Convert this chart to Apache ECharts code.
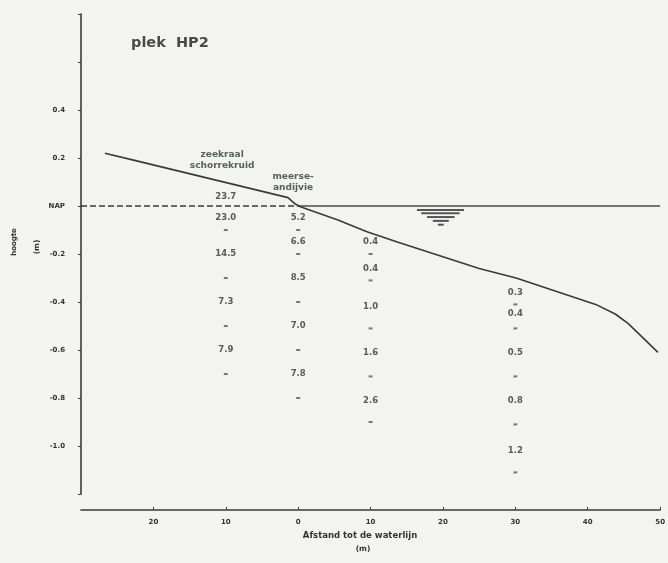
<!DOCTYPE html>
<html>
<head>
<meta charset="utf-8">
<script src="https://cdn.jsdelivr.net/npm/echarts@6/dist/echarts.min.js"></script>
<style>
  html, body { margin: 0; padding: 0; background: #f3f3ef; }
  #chart { width: 668px; height: 563px; }
</style>
</head>
<body>
<div id="chart"></div>
<script>
// Ground profile along the transect: [distance to waterline (m), height (m, NAP)]
const profile = [
  [-26.7, 0.22], [-22.6, 0.19], [-1.4, 0.035], [-0.4, 0.008], [0.4, -0.004],
  [5.5, -0.058], [8.9, -0.10], [9.6, -0.108], [13.7, -0.15], [25.0, -0.26],
  [30.1, -0.30], [41.1, -0.41], [43.8, -0.45], [45.6, -0.49], [49.7, -0.61]
];

// NAP reference over land (dashed) and water level (solid)
const napLand = [[-30, 0], [0, 0]];
const waterLevel = [[0, 0], [50, 0]];

// Water-level symbol: horizontal strokes [from x, to x, height]
const waterSymbol = [
  [16.4, 22.9, -0.017], [17.0, 22.3, -0.030], [17.8, 21.6, -0.046],
  [18.6, 20.8, -0.062], [19.3, 20.1, -0.078]
];

// Sampling columns (distance in m)
const columnX = [-10, 0, 10, 30];

// Measured values per column and the height at which each is written
const columnValues = [
  ['23.7', '23.0', '14.5', '7.3', '7.9'],
  ['5.2', '6.6', '8.5', '7.0', '7.8'],
  ['0.4', '0.4', '1.0', '1.6', '2.6'],
  ['0.3', '0.4', '0.5', '0.8', '1.2']
];
const columnValueHeights = [
  [0.04, -0.05, -0.20, -0.40, -0.60],
  [-0.05, -0.15, -0.30, -0.50, -0.70],
  [-0.15, -0.26, -0.42, -0.61, -0.81],
  [-0.36, -0.45, -0.61, -0.81, -1.02]
];
// Small separator marks between the values
const columnDashHeights = [
  [-0.10, -0.30, -0.50, -0.70],
  [-0.10, -0.20, -0.40, -0.60, -0.80],
  [-0.20, -0.31, -0.51, -0.71, -0.90],
  [-0.41, -0.51, -0.71, -0.91, -1.11]
];

// Vegetation zones
const vegetation = [
  [-10.5, 0.19, 'zeekraal\nschorrekruid'],
  [-0.7, 0.10, 'meerse-\nandijvie']
];

// Height axis labels
const yLabelled = [0.4, 0.2, 0, -0.2, -0.4, -0.6, -0.8, -1.0];
const yZeroLabel = 'NAP';

const FONT = 'DejaVu Sans';
const INK = '#2e3531';
const LINE = '#3a3a3a';

const valuePoints = [];
const dashPoints = [];
columnX.forEach((x, i) => {
  columnValues[i].forEach((v, j) => valuePoints.push([x, columnValueHeights[i][j], v]));
  columnDashHeights[i].forEach(h => dashPoints.push([x, h]));
});

const chart = echarts.init(document.getElementById('chart'));
chart.setOption({
  backgroundColor: '#f3f3ef',
  animation: false,
  title: {
    text: 'plek  HP2',
    left: 126, top: 31,
    textStyle: { fontFamily: FONT, fontWeight: 'bold', fontSize: 14.5, color: '#4a4a4a' }
  },
  grid: { left: 81, right: 3, top: 14, bottom: 69 },
  xAxis: {
    type: 'value', min: -30, max: 50, interval: 10,
    offset: 16,
    axisLine: { onZero: false, lineStyle: { color: LINE, width: 1.6 } },
    axisTick: { inside: true, length: 3, lineStyle: { color: LINE } },
    splitLine: { show: false },
    axisLabel: {
      showMinLabel: false,
      margin: 9,
      fontFamily: FONT, fontWeight: 'bold', fontSize: 7, color: INK,
      formatter: v => String(Math.abs(v))
    }
  },
  yAxis: {
    type: 'value', min: -1.2, max: 0.8, interval: 0.2,
    axisLine: { show: true, onZero: false, lineStyle: { color: LINE, width: 1.6 } },
    axisTick: { show: true, length: 3, lineStyle: { color: LINE } },
    splitLine: { show: false },
    axisLabel: {
      margin: 16,
      fontFamily: FONT, fontWeight: 'bold', fontSize: 7, color: INK,
      formatter: v => {
        const r = Math.round(v * 10) / 10;
        if (!yLabelled.some(t => Math.abs(t - r) < 1e-6)) return '';
        return r === 0 ? yZeroLabel : r.toFixed(1);
      }
    }
  },
  graphic: [
    { type: 'text', x: 14, y: 242, rotation: Math.PI / 2,
      style: { text: 'hoogte', fontFamily: FONT, fontWeight: 'bold', fontSize: 7, fill: INK,
               textAlign: 'center', textVerticalAlign: 'middle' } },
    { type: 'text', x: 37, y: 247, rotation: Math.PI / 2,
      style: { text: '(m)', fontFamily: FONT, fontWeight: 'bold', fontSize: 7.5, fill: INK,
               textAlign: 'center', textVerticalAlign: 'middle' } },
    { type: 'text', x: 360, y: 536,
      style: { text: 'Afstand tot de waterlijn', fontFamily: FONT, fontWeight: 'bold', fontSize: 8.5, fill: INK,
               textAlign: 'center', textVerticalAlign: 'middle' } },
    { type: 'text', x: 363, y: 549,
      style: { text: '(m)', fontFamily: FONT, fontWeight: 'bold', fontSize: 7.5, fill: INK,
               textAlign: 'center', textVerticalAlign: 'middle' } }
  ],
  series: [
    {
      type: 'line', data: napLand, symbol: 'none', silent: true,
      lineStyle: { color: LINE, width: 1.4, type: [6, 3] }
    },
    {
      type: 'line', data: waterLevel, symbol: 'none', silent: true,
      lineStyle: { color: '#4a4a4a', width: 1.6 }
    },
    {
      type: 'line', data: profile, symbol: 'none', silent: true,
      lineStyle: { color: LINE, width: 1.6 }
    },
    {
      type: 'custom', data: waterSymbol, silent: true,
      encode: { x: [0, 1], y: 2 },
      renderItem: (params, api) => {
        const a = api.coord([api.value(0), api.value(2)]);
        const b = api.coord([api.value(1), api.value(2)]);
        return {
          type: 'line',
          shape: { x1: a[0], y1: a[1], x2: b[0], y2: b[1] },
          style: { stroke: '#555', lineWidth: 2 }
        };
      }
    },
    {
      type: 'scatter', data: dashPoints, silent: true,
      symbol: 'rect', symbolSize: [4, 2],
      itemStyle: { color: '#555' }
    },
    {
      type: 'scatter', data: valuePoints, silent: true,
      symbolSize: 0,
      label: {
        show: true, position: 'inside',
        fontFamily: FONT, fontWeight: 'bold', fontSize: 8.5, color: INK,
        formatter: p => p.data[2]
      }
    },
    {
      type: 'scatter', data: vegetation, silent: true,
      symbolSize: 0,
      label: {
        show: true, position: 'inside', lineHeight: 11,
        fontFamily: FONT, fontWeight: 'bold', fontSize: 9, color: '#2a3d33',
        formatter: p => p.data[2]
      }
    }
  ]
});
</script>
</body>
</html>
